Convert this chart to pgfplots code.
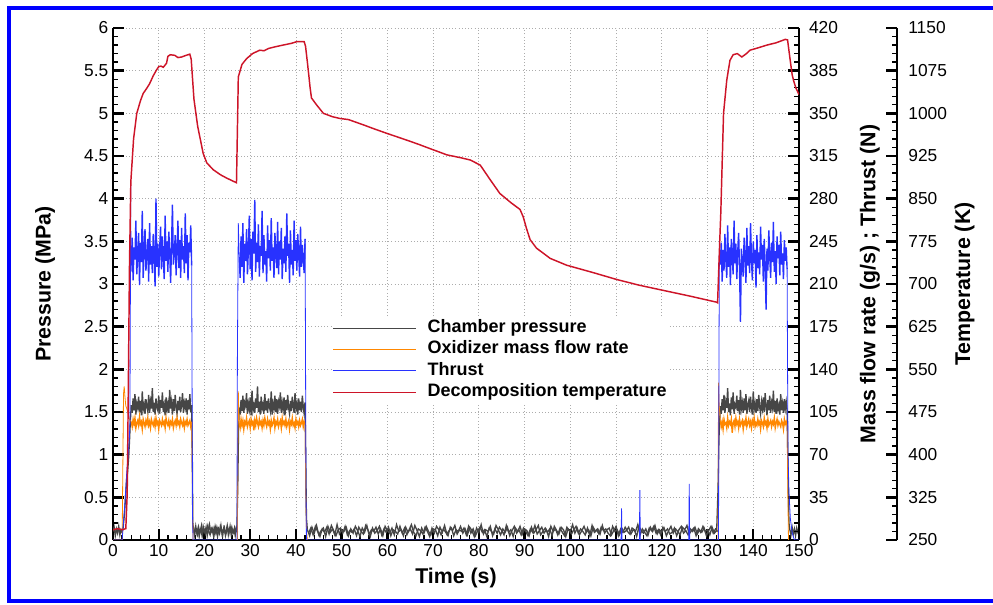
\documentclass[border=0pt]{standalone}
\usepackage{fontspec}
\setmainfont{Liberation Sans}
\usepackage{pgfplots}
\usepackage{pgfplotstable}
\pgfplotsset{compat=1.18}
\definecolor{cpgray}{RGB}{70,70,70}
\definecolor{oxorange}{RGB}{255,135,0}
\definecolor{thblue}{RGB}{40,50,255}
\definecolor{tred}{RGB}{205,20,40}
\definecolor{frameblue}{RGB}{0,0,255}

% burn 1: t = 4.0 ... 17.2 s, step 0.2 s ; p in MPa, m in g/s, F in N
\pgfplotstableread{
p m F
1.58 97 225
1.49 93 248
1.66 99 213
1.52 95 240
1.71 100 230
1.47 92 262
1.60 96 218
1.55 98 236
1.68 94 252
1.50 101 209
1.63 95 244
1.46 97 228
1.74 91 270
1.53 99 215
1.59 96 238
1.48 93 255
1.65 98 221
1.57 95 233
1.51 100 247
1.70 94 212
1.49 97 260
1.62 92 226
1.54 99 241
1.78 96 219
1.50 94 251
1.61 98 235
1.47 93 208
1.66 100 280
1.56 95 224
1.52 97 243
1.69 91 216
1.48 98 238
1.64 96 257
1.55 94 222
1.73 99 249
1.50 95 231
1.58 97 214
1.46 92 266
1.67 100 229
1.53 96 245
1.60 94 220
1.49 98 253
1.76 93 237
1.54 97 211
1.62 95 242
1.47 99 275
1.65 92 226
1.51 96 234
1.70 98 250
1.56 94 217
1.48 100 239
1.63 95 262
1.52 97 223
1.68 93 246
1.50 99 215
1.59 96 256
1.72 94 230
1.49 98 241
1.61 92 219
1.55 97 268
1.66 95 227
1.47 99 250
1.64 94 213
1.53 96 244
1.71 98 236
1.50 93 258
1.58 97 225
}\burnA

% burn 2: t = 27.6 ... 42.0 s, step 0.2 s
\pgfplotstableread{
p m F
1.55 96 232
1.47 92 215
1.64 99 249
1.51 94 224
1.69 98 260
1.49 91 211
1.61 97 243
1.57 95 229
1.72 100 255
1.48 93 218
1.60 96 238
1.53 98 266
1.67 92 222
1.46 99 247
1.75 95 213
1.52 97 253
1.58 90 235
1.49 98 279
1.66 94 220
1.55 100 244
1.80 96 228
1.50 93 259
1.62 99 216
1.47 95 241
1.68 97 233
1.54 92 270
1.59 98 219
1.48 94 250
1.71 100 226
1.52 96 237
1.63 93 212
1.49 99 258
1.66 95 231
1.56 97 246
1.51 91 221
1.74 98 264
1.47 94 229
1.60 96 240
1.54 100 215
1.69 92 252
1.50 97 236
1.65 95 223
1.48 99 261
1.62 93 218
1.57 96 245
1.73 98 230
1.49 92 256
1.61 100 214
1.53 95 239
1.67 97 227
1.46 94 249
1.64 99 220
1.52 93 268
1.70 96 233
1.55 98 243
1.48 91 211
1.63 97 254
1.51 95 226
1.68 100 238
1.57 94 217
1.49 96 262
1.72 92 229
1.54 99 246
1.60 95 221
1.47 97 251
1.66 93 235
1.52 98 216
1.62 94 257
1.50 96 224
1.69 99 242
1.56 93 230
1.48 97 219
1.61 95 247
}\burnB

% burn 3: t = 132.8 ... 147.4 s, step 0.2 s
\pgfplotstableread{
p m F
1.57 98 226
1.48 93 244
1.65 97 212
1.52 91 238
1.70 99 221
1.49 95 251
1.62 96 230
1.55 92 215
1.78 100 258
1.50 94 224
1.60 97 240
1.46 95 209
1.67 99 247
1.53 88 233
1.73 96 218
1.48 98 262
1.59 93 227
1.56 100 243
1.69 95 214
1.51 97 236
1.64 92 252
1.47 99 222
1.76 94 179
1.54 96 239
1.61 98 229
1.49 91 216
1.66 97 248
1.52 95 234
1.71 100 211
1.48 93 256
1.58 96 225
1.63 99 241
1.50 94 219
1.68 97 260
1.55 92 231
1.47 98 213
1.74 95 245
1.53 100 227
1.60 93 238
1.49 96 207
1.65 94 250
1.51 99 223
1.70 95 236
1.56 97 218
1.48 91 257
1.62 98 230
1.54 96 242
1.67 93 212
1.50 100 247
1.72 95 226
1.57 97 189
1.46 92 239
1.64 99 221
1.52 94 254
1.69 96 233
1.49 98 215
1.61 93 244
1.55 97 228
1.75 95 261
1.50 100 220
1.63 92 237
1.48 96 210
1.66 99 249
1.53 94 231
1.58 97 242
1.47 95 217
1.71 93 253
1.52 98 226
1.60 96 235
1.49 91 214
1.65 99 246
1.54 95 229
1.62 97 240
1.51 94 222
}\burnC

% chamber pressure between burns 1 and 2 (MPa):
% column a at t = 17.6 + 0.25 k, column b at t = 17.725 + 0.25 k
\pgfplotstableread[row sep=\\]{
a b\\
0.12 0.08\\ 0.05 0.14\\ 0.16 0.10\\ 0.08 0.06\\ 0.14 0.15\\ 0.04 0.09\\ 0.11 0.13\\ 0.17 0.05\\ 0.07 0.16\\ 0.13 0.11\\
0.09 0.07\\ 0.15 0.12\\ 0.05 0.17\\ 0.12 0.09\\ 0.18 0.06\\ 0.08 0.14\\ 0.10 0.11\\ 0.14 0.05\\ 0.06 0.13\\ 0.16 0.08\\
0.11 0.15\\ 0.04 0.10\\ 0.13 0.07\\ 0.09 0.16\\ 0.17 0.12\\ 0.07 0.05\\ 0.12 0.14\\ 0.15 0.09\\ 0.05 0.11\\ 0.10 0.17\\
0.14 0.06\\ 0.08 0.13\\ 0.16 0.10\\ 0.06 0.15\\ 0.12 0.08\\ 0.09 0.12\\ 0.15 0.05\\ 0.11 0.14\\ 0.13 0.09\\
}\offB

% chamber pressure between burns 2 and 3 (MPa):
% column a at t = 42.5 + 0.5 k, column b at t = 42.75 + 0.5 k
\pgfplotstableread[row sep=\\]{
a b\\
0.12 0.08\\ 0.05 0.14\\ 0.15 0.06\\ 0.08 0.16\\ 0.17 0.10\\ 0.06 0.04\\ 0.11 0.13\\ 0.14 0.09\\ 0.04 0.15\\ 0.16 0.07\\
0.09 0.17\\ 0.13 0.11\\ 0.06 0.05\\ 0.18 0.12\\ 0.07 0.14\\ 0.12 0.08\\ 0.10 0.16\\ 0.15 0.06\\ 0.05 0.11\\ 0.13 0.09\\
0.08 0.13\\ 0.16 0.05\\ 0.11 0.15\\ 0.04 0.10\\ 0.14 0.07\\ 0.09 0.17\\ 0.17 0.12\\ 0.06 0.04\\ 0.12 0.14\\ 0.10 0.08\\
0.15 0.11\\ 0.07 0.16\\ 0.13 0.06\\ 0.05 0.13\\ 0.16 0.09\\ 0.11 0.15\\ 0.08 0.05\\ 0.14 0.12\\ 0.06 0.10\\ 0.18 0.07\\
0.10 0.16\\ 0.12 0.08\\ 0.05 0.14\\ 0.15 0.06\\ 0.09 0.12\\ 0.13 0.18\\ 0.07 0.09\\ 0.17 0.05\\ 0.11 0.13\\ 0.04 0.11\\
0.14 0.07\\ 0.08 0.15\\ 0.16 0.10\\ 0.10 0.04\\ 0.06 0.14\\ 0.13 0.08\\ 0.12 0.16\\ 0.05 0.12\\ 0.15 0.06\\ 0.09 0.13\\
0.17 0.09\\ 0.07 0.05\\ 0.11 0.15\\ 0.14 0.11\\ 0.05 0.17\\ 0.12 0.07\\ 0.10 0.12\\ 0.16 0.10\\ 0.08 0.14\\ 0.13 0.06\\
0.06 0.16\\ 0.15 0.08\\ 0.11 0.13\\ 0.04 0.05\\ 0.14 0.11\\ 0.09 0.15\\ 0.18 0.09\\ 0.07 0.12\\ 0.12 0.04\\ 0.10 0.14\\
0.16 0.10\\ 0.05 0.07\\ 0.13 0.17\\ 0.08 0.12\\ 0.15 0.06\\ 0.11 0.13\\ 0.06 0.09\\ 0.17 0.15\\ 0.09 0.05\\ 0.12 0.11\\
0.04 0.16\\ 0.14 0.08\\ 0.10 0.12\\ 0.16 0.06\\ 0.07 0.14\\ 0.13 0.10\\ 0.11 0.05\\ 0.05 0.13\\ 0.15 0.09\\ 0.08 0.17\\
0.12 0.07\\ 0.17 0.11\\ 0.06 0.15\\ 0.10 0.08\\ 0.14 0.12\\ 0.09 0.04\\ 0.13 0.16\\ 0.05 0.10\\ 0.16 0.13\\ 0.11 0.06\\
0.07 0.14\\ 0.15 0.09\\ 0.12 0.05\\ 0.04 0.15\\ 0.13 0.11\\ 0.10 0.07\\ 0.18 0.12\\ 0.08 0.16\\ 0.14 0.08\\ 0.06 0.13\\
0.11 0.10\\ 0.16 0.06\\ 0.09 0.14\\ 0.12 0.05\\ 0.05 0.17\\ 0.15 0.09\\ 0.10 0.12\\ 0.13 0.07\\ 0.07 0.15\\ 0.17 0.11\\
0.08 0.13\\ 0.12 0.08\\ 0.14 0.05\\ 0.06 0.16\\ 0.11 0.10\\ 0.16 0.12\\ 0.05 0.06\\ 0.13 0.14\\ 0.09 0.09\\ 0.15 0.11\\
0.10 0.15\\ 0.07 0.07\\ 0.14 0.12\\ 0.12 0.10\\ 0.04 0.18\\ 0.16 0.06\\ 0.11 0.13\\ 0.08 0.09\\ 0.13 0.05\\ 0.06 0.14\\
0.15 0.11\\ 0.10 0.16\\ 0.17 0.08\\ 0.07 0.12\\ 0.12 0.06\\ 0.09 0.15\\ 0.14 0.10\\ 0.05 0.13\\ 0.11 0.07\\ 0.16 0.09\\
0.08 0.14\\ 0.13 0.05\\ 0.10 0.12\\ 0.06 0.16\\ 0.15 0.08\\ 0.12 0.11\\ 0.17 0.06\\ 0.07 0.13\\ 0.11 0.10\\ 0.14 0.15\\
0.05 0.07\\ 0.13 0.12\\ 0.09 0.09\\ 0.16 0.14\\ 0.10 0.05\\ 0.12 0.11\\ 0.06 0.16\\ 0.15 0.08\\ 0.08 0.13\\ 0.11 0.10\\
}\offC

\pgfplotsset{
  common/.style={
    scale only axis, height=384pt, at={(84.75pt,48pt)}, anchor=south west,
    /pgf/number format/assume math mode=true,
    /pgf/number format/1000 sep={},
    tick label style={font=\fontsize{13}{15}\selectfont},
    tick align=inside,
    major tick length=8pt, minor tick length=3.75pt,
    major tick style={line width=1.8pt, black},
    minor tick style={line width=1pt, black},
  },
  base/.style={common, width=514.5pt, xmin=0, xmax=150},
  band/.style={line width=1.05pt},
  lowband/.style={cpgray, line width=1pt},
}
\newcommand{\labfont}{\fontsize{16}{19}\selectfont\bfseries}

\begin{document}
\begin{tikzpicture}
\useasboundingbox (0pt,0pt) rectangle (744.75pt,453pt);

% ---------- pressure axis ----------
\begin{axis}[base, ymin=0, ymax=6,
  axis x line=bottom, axis y line=left,
  x axis line style={-, line width=2.2pt},
  y axis line style={-, line width=2.2pt},
  tick align=inside,
  xtick={0,10,20,30,40,50,60,70,80,90,100,110,120,130,140,150},
  minor x tick num=4,
  ytick={0,0.5,1,1.5,2,2.5,3,3.5,4,4.5,5,5.5,6},
  minor y tick num=4,
  grid=major,
  grid style={gray!65, line width=0.6pt, dash pattern=on 0.8pt off 1.6pt},
  xlabel={Time (s)}, ylabel={Pressure (MPa)},
  every axis x label/.style={at={(rel axis cs:0.5,-0.0742)}, anchor=center, font=\labfont},
  every axis y label/.style={at={(rel axis cs:-0.0991,0.5)}, anchor=center, rotate=90, font=\labfont},
]
\addplot[lowband] coordinates {
 (0,0.10)(0.25,0.15)(0.5,0.05)(0.75,0.13)(1.0,0.08)(1.25,0.16)(1.5,0.06)(1.75,0.12)
 (2.0,0.09)(2.2,0.14)(2.5,0.30)(2.8,0.55)(3.0,0.72)(3.2,0.80)(3.4,0.95)(3.6,1.15)(3.8,1.40)(4.0,1.58)};
\addplot[cpgray, band] table[x expr=4.0+0.2*\coordindex, y=p] {\burnA};
\addplot[lowband] coordinates {(17.2,1.58)(17.35,0.9)(17.45,0.2)(17.6,0.12)};
\addplot[lowband] table[x expr=17.6+0.25*\coordindex, y=a] {\offB};
\addplot[lowband] table[x expr=17.725+0.25*\coordindex, y=b] {\offB};
\addplot[lowband] coordinates {(27.1,0.13)(27.3,0.7)(27.45,1.3)(27.6,1.55)};
\addplot[cpgray, band] table[x expr=27.6+0.2*\coordindex, y=p] {\burnB};
\addplot[lowband] coordinates {(42.0,1.61)(42.15,0.9)(42.3,0.25)(42.5,0.12)};
\addplot[lowband] table[x expr=42.5+0.5*\coordindex, y=a] {\offC};
\addplot[lowband] table[x expr=42.75+0.5*\coordindex, y=b] {\offC};
\addplot[lowband] coordinates {(132.0,0.11)(132.3,0.6)(132.5,1.2)(132.8,1.57)};
\addplot[cpgray, band] table[x expr=132.8+0.2*\coordindex, y=p] {\burnC};
\addplot[lowband] coordinates {(147.4,1.51)(147.6,0.8)(147.8,0.2)(148.0,0.12)
 (148.25,0.06)(148.5,0.15)(148.75,0.07)(149.0,0.13)(149.25,0.05)(149.5,0.14)(149.75,0.09)(150,0.12)};
\end{axis}

% ---------- mass flow rate / thrust axis ----------
\begin{axis}[base, ymin=0, ymax=420,
  hide x axis, axis y line=right,
  y axis line style={-, line width=2.2pt},
  tick align=inside,
  ytick={0,35,70,105,140,175,210,245,280,315,350,385,420},
  minor y tick num=4,
  yticklabel style={xshift=4pt},
  ylabel={Mass flow rate (g/s) ; Thrust (N)},
  every axis y label/.style={at={(rel axis cs:1.1035,0.5)}, anchor=center, rotate=90, font=\labfont},
]
% oxidizer mass flow rate
\addplot[oxorange, line width=0.6pt] coordinates {(0,0)(2.0,0)(2.15,60)(2.3,120)(2.45,126)(2.6,118)(2.8,110)(3.0,108)(3.3,104)(3.6,99)(4.0,97)};
\addplot[oxorange, band] table[x expr=4.0+0.2*\coordindex, y=m] {\burnA};
\addplot[oxorange, line width=0.6pt] coordinates {(17.2,97)(17.35,50)(17.5,0)};
\addplot[oxorange, line width=0.6pt] coordinates {(27.2,0)(27.3,80)(27.4,122)(27.5,105)(27.6,96)};
\addplot[oxorange, band] table[x expr=27.6+0.2*\coordindex, y=m] {\burnB};
\addplot[oxorange, line width=0.6pt] coordinates {(42.0,95)(42.15,40)(42.3,8)(42.5,0)};
\addplot[oxorange, line width=0.6pt] coordinates {(132.3,0)(132.4,129)(132.55,110)(132.8,98)};
\addplot[oxorange, band] table[x expr=132.8+0.2*\coordindex, y=m] {\burnC};
\addplot[oxorange, line width=0.6pt] coordinates {(147.4,94)(147.55,40)(147.7,0)};
% thrust
\addplot[thblue, line width=0.6pt] coordinates {(0,0)(2.0,0)(2.1,5)(2.6,30)(3.0,55)(3.3,70)(3.6,85)(3.7,96)(3.8,200)(3.85,291)(3.95,220)(4.0,225)};
\addplot[thblue, band] table[x expr=4.0+0.2*\coordindex, y=F] {\burnA};
\addplot[thblue, line width=0.6pt] coordinates {(17.2,225)(17.3,120)(17.4,20)(17.5,0)(27.1,0)(27.2,150)(27.4,260)(27.6,232)};
\addplot[thblue, band] table[x expr=27.6+0.2*\coordindex, y=F] {\burnB};
\addplot[thblue, line width=0.6pt] coordinates {(42.0,247)(42.1,150)(42.2,40)(42.3,0)
 (111.1,0)(111.2,26)(111.3,0)(115.1,0)(115.2,41)(115.3,0)(125.9,0)(126.0,46)(126.1,0)
 (132.4,0)(132.5,150)(132.6,240)(132.8,226)};
\addplot[thblue, band] table[x expr=132.8+0.2*\coordindex, y=F] {\burnC};
\addplot[thblue, line width=0.6pt] coordinates {(147.4,222)(147.5,140)(147.6,70)(147.8,40)(148.1,18)(148.5,6)(149,0)(150,0)};
\end{axis}

% ---------- temperature data ----------
\begin{axis}[base, ymin=250, ymax=1150, hide axis,
  legend cell align=left,
  legend image code/.code={\draw[#1] (0pt,0pt) -- (62pt,0pt); \path (69pt,0pt);},
  legend style={at={(rel axis cs:0.3207,0.435)}, anchor=north west,
    draw=none, fill=white, inner sep=0pt, outer sep=0pt, row sep=0pt,
    font=\fontsize{13.5}{16}\selectfont\bfseries,
    nodes={inner sep=1.5pt, text height=10pt, text depth=3pt}},
]
\addlegendimage{cpgray, line width=0.5pt}
\addlegendentry{Chamber pressure}
\addlegendimage{oxorange, line width=0.5pt}
\addlegendentry{Oxidizer mass flow rate}
\addlegendimage{thblue, line width=0.5pt}
\addlegendentry{Thrust}
\addlegendimage{tred, line width=0.5pt}
\addlegendentry{Decomposition temperature}
\addplot[tred, line width=1.1pt, forget plot] coordinates {
 (0,268)(1,270)(2,268)(2.8,270)(3.1,330)(3.3,475)(3.6,730)(3.9,880)(4.5,955)(5.2,1000)
 (6.0,1022)(6.6,1035)(7.3,1043)(8.0,1052)(8.8,1066)(9.5,1076)(10.0,1082)(10.5,1083)(11.0,1081)
 (11.4,1085)(11.7,1088)(12.0,1100)(12.5,1103)(13.5,1102)(14.2,1098)(15.0,1099)(16.0,1102)
 (16.8,1104)(17.1,1095)(17.4,1060)(17.7,1025)(18.5,978)(19.7,930)(20.5,913)(21.9,901)
 (23.5,892)(24.9,886)(27.0,878)(27.2,970)(27.4,1064)(28.2,1086)(29.2,1096)(30.5,1105)
 (32.1,1111)(33.0,1110)(34.0,1114)(35.5,1117)(37.2,1120)(39.0,1123)(40.2,1126)(41.8,1126)
 (42.1,1118)(42.5,1090)(42.8,1068)(43.1,1045)(43.4,1027)(44.5,1015)(46.0,1000)(48.0,994)
 (49.6,991)(51.5,989)(55.0,979)(57.0,973)(59.8,965)(62.0,959)(64.9,951)(67.0,945)(69.3,938)
 (71.0,933)(73.0,927)(76.0,922)(78.1,918)(80.3,909)(82.5,883)(84.6,859)(87.0,843)(89.0,831)
 (89.7,818)(90.4,798)(91.2,778)(92.6,763)(95.6,745)(99.2,733)(105.0,720)(110.1,708)
 (115.0,698)(119.6,690)(126.0,679)(132.0,668)(132.2,667)(132.6,760)(132.9,825)(133.5,1000)
 (134.2,1058)(134.9,1093)(135.6,1103)(136.5,1105)(137.5,1099)(138.5,1105)(139.3,1111)
 (141.0,1115)(143.0,1120)(145.0,1124)(147.0,1130)(147.5,1129)(148.0,1098)(148.5,1068)
 (148.8,1058)(149.3,1045)(150,1033)};
\end{axis}

% ---------- temperature scale ----------
\begin{axis}[common, width=588pt, xmin=0, xmax=1, ymin=250, ymax=1150,
  hide x axis, axis y line=right,
  y axis line style={-, line width=2.2pt},
  tick align=inside,
  ytick={250,325,400,475,550,625,700,775,850,925,1000,1075,1150},
  minor y tick num=4,
  yticklabel style={xshift=5pt},
  ylabel={Temperature (K)},
  every axis y label/.style={at={(rel axis cs:1.0861,0.5)}, anchor=center, rotate=90, font=\labfont},
]
\addplot[draw=none] coordinates {(0,250)(1,1150)};
\end{axis}

% frame
\draw[frameblue, line width=3pt] (744.75pt,447pt) -- (6.75pt,447pt) -- (6.75pt,1.9pt) -- (744.75pt,1.9pt);
\end{tikzpicture}
\end{document}
